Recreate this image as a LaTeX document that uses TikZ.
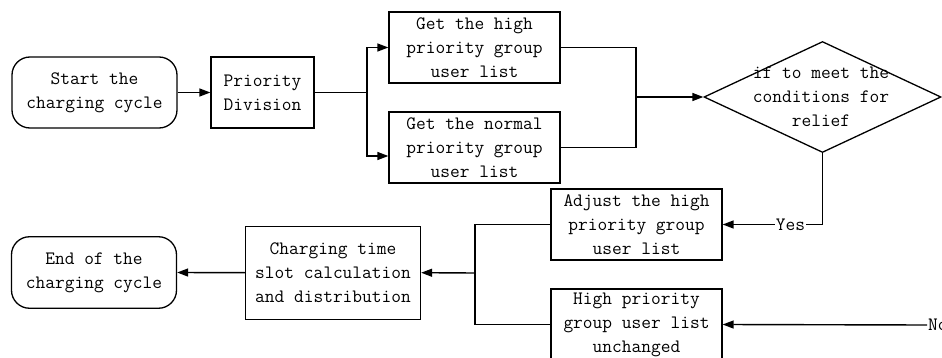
\documentclass[tikz,border=0pt]{standalone}
\usetikzlibrary{arrows.meta,shapes.geometric}
\begin{document}
\begin{tikzpicture}[x=1pt,y=1pt,
  every node/.style={font=\ttfamily\fontsize{18.9}{24}\selectfont, text=black},
  box/.style={draw, line width=1.3pt, align=center, inner sep=0pt},
  term/.style={box, rounded corners=18pt},
  conn/.style={line width=1.4pt},
  arr/.style={conn, -{Triangle[length=11pt,width=8pt]}},
  lbl/.style={inner sep=1pt, fill=white}
]
\useasboundingbox (0,0) rectangle (942,-358);
\fill[white] (0,0) rectangle (942,-358);

\node[term, minimum width=165pt, minimum height=71pt] (start) at (94.5,-92.5) {Start the\\charging cycle};
\node[box, minimum width=103pt, minimum height=71pt] (pd) at (262.5,-92.5) {Priority\\Division};
\node[box, minimum width=171pt, minimum height=71pt] (high) at (474.5,-47.5) {Get the high\\priority group\\user list};
\node[box, minimum width=171pt, minimum height=71pt] (normal) at (474.5,-147.5) {Get the normal\\priority group\\user list};
\node[draw, diamond, line width=1.3pt, minimum width=237pt, minimum height=111pt, inner sep=0pt] (dec) at (822.5,-97) {};
\node[align=center, inner sep=0pt] (dectext) at (821,-96.5) {if to meet the\\conditions for\\relief};
\node[box, minimum width=171pt, minimum height=71pt] (adj) at (636.5,-224.5) {Adjust the high\\priority group\\user list};
\node[box, minimum width=171pt, minimum height=71pt] (unch) at (636.5,-324.5) {High priority\\group user list\\unchanged};
\node[box, minimum width=175pt, minimum height=93pt] (calc) at (333,-272.7) {Charging time\\slot calculation\\and distribution};
\node[term, minimum width=165pt, minimum height=71.5pt] (end) at (94,-272.5) {End of the\\charging cycle};

\node[lbl] (yes) at (790.5,-224.5) {Yes};
\node[lbl, anchor=west] (no) at (927,-325) {No};

\coordinate (split) at (367,-92.5);
\coordinate (merge) at (636,-97);
\coordinate (jn) at (475,-273);

\draw[arr] (start) -- (pd);
\draw[conn] (pd.east) -- (split);
\draw[arr] (split) |- (high.west);
\draw[arr] (split) |- ([yshift=-8.5pt]normal.west);
\draw[conn] (high.east) -| (merge);
\draw[conn] (normal.east) -| (merge);
\draw[arr] (merge) -- (dec.west);
\draw[conn] (dec.south) |- (yes.east);
\draw[arr] (yes.west) -- (adj.east);
\draw[arr] (no.west) -- (unch.east);
\draw[conn] (adj.west) -| (jn);
\draw[conn] (unch.west) -| (jn);
\draw[arr] (jn) -- (calc.east);
\draw[arr] (calc.west) -- (end.east);
\end{tikzpicture}
\end{document}
